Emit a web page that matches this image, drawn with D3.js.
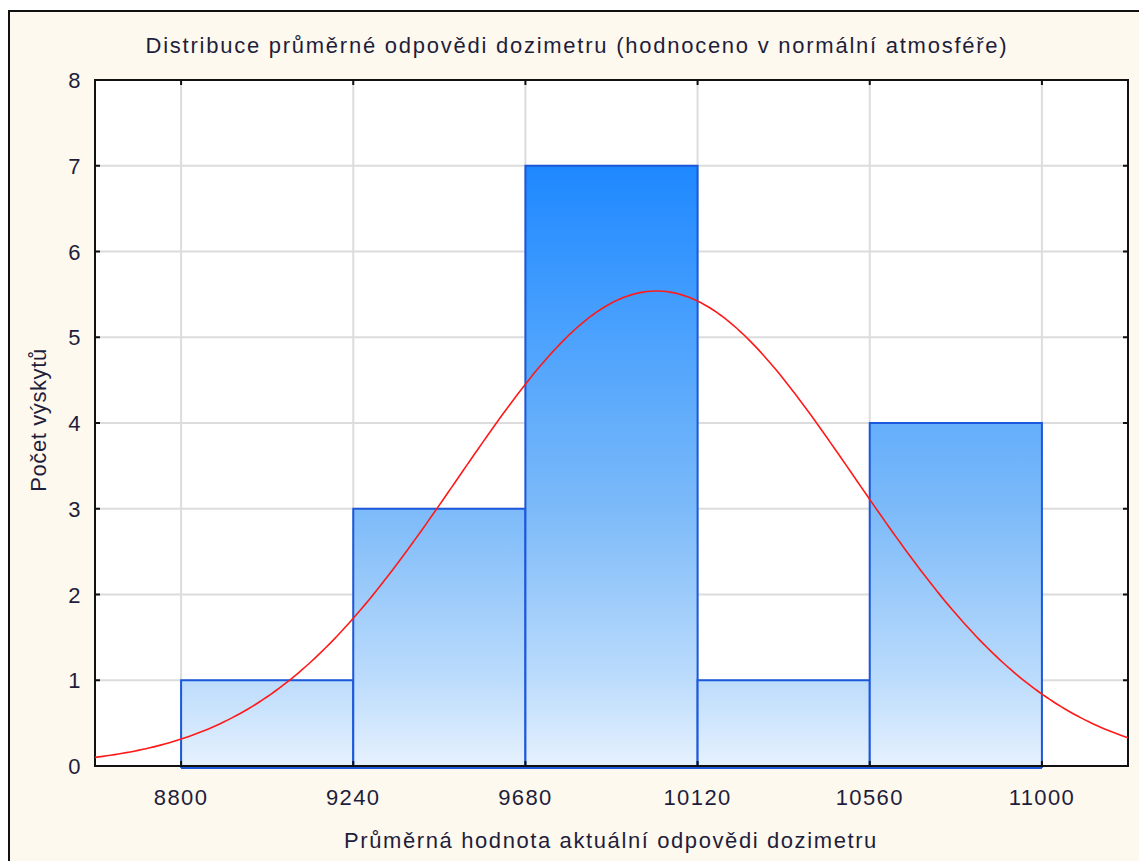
<!DOCTYPE html>
<html>
<head>
<meta charset="utf-8">
<script src="https://cdn.jsdelivr.net/npm/d3@7"></script>
<style>
  html, body { margin: 0; padding: 0; background: #ffffff; }
  svg { display: block; }
  text { font-family: "Liberation Sans", Arial, sans-serif; fill: #1e1e3c; }
</style>
</head>
<body>
<svg id="chart" width="1139" height="861"></svg>
<script>
// Histogram bins: lower/upper edges and counts
const binStarts = [8800, 9240, 9680, 10120, 10560];
const binEnds   = [9240, 9680, 10120, 10560, 11000];
const counts    = [1, 3, 7, 1, 4];

// Axis ticks
const xTicks = [8800, 9240, 9680, 10120, 10560, 11000];
const yTicks = [0, 1, 2, 3, 4, 5, 6, 7, 8];

// Fitted normal curve parameters
const fitMean = 10015;
const fitSd = 507;

const titleText = "Distribuce průměrné odpovědi dozimetru (hodnoceno v normální atmosféře)";
const xTitle = "Průměrná hodnota aktuální odpovědi dozimetru";
const yTitle = "Počet výskytů";

const svg = d3.select("#chart");
const W = 1139, H = 861;
const plot = { left: 95, top: 80, right: 1128, bottom: 766 };

// Outer panel
svg.append("rect")
  .attr("x", 9).attr("y", 11)
  .attr("width", W + 20).attr("height", H + 20)
  .attr("fill", "#fef9ee")
  .attr("stroke", "#111").attr("stroke-width", 2);

const x = d3.scaleLinear().domain([8580, 11220]).range([plot.left, plot.right]);
const y = d3.scaleLinear().domain([0, 8]).range([plot.bottom, plot.top]);

// Plot background
svg.append("rect")
  .attr("x", plot.left).attr("y", plot.top)
  .attr("width", plot.right - plot.left).attr("height", plot.bottom - plot.top)
  .attr("fill", "#ffffff");

// Grid
const grid = svg.append("g").attr("stroke", "#dcdcdc").attr("stroke-width", 2);
grid.selectAll("line.gx").data(xTicks).join("line")
  .attr("x1", d => x(d)).attr("x2", d => x(d))
  .attr("y1", plot.top).attr("y2", plot.bottom);
grid.selectAll("line.gy").data(yTicks.filter(d => d > 0 && d < 8)).join("line")
  .attr("x1", plot.left).attr("x2", plot.right)
  .attr("y1", d => y(d)).attr("y2", d => y(d));

// Bar fill gradient tied to the count scale
const defs = svg.append("defs");
const grad = defs.append("linearGradient")
  .attr("id", "barGrad")
  .attr("gradientUnits", "userSpaceOnUse")
  .attr("x1", 0).attr("x2", 0)
  .attr("y1", y(0)).attr("y2", y(7));
[[0, "#e6f1fd"], [1 / 7, "#bcdcfc"], [3 / 7, "#7cbaf9"], [5 / 7, "#4ca2fd"], [1, "#1e88ff"]]
  .forEach(([o, c]) => grad.append("stop").attr("offset", o).attr("stop-color", c));

const bins = counts.map((c, i) => ({ x0: binStarts[i], x1: binEnds[i], count: c }));

svg.append("g").selectAll("rect").data(bins).join("rect")
  .attr("x", d => x(d.x0))
  .attr("y", d => y(d.count))
  .attr("width", d => x(d.x1) - x(d.x0))
  .attr("height", d => y(0) - y(d.count) + 1)
  .attr("fill", "url(#barGrad)")
  .attr("stroke", "#1c58dc")
  .attr("stroke-width", 2);

// Axes frame
const frame = svg.append("g").attr("stroke", "#111").attr("stroke-width", 2).attr("fill", "none");
frame.append("rect")
  .attr("x", plot.left).attr("y", plot.top)
  .attr("width", plot.right - plot.left).attr("height", plot.bottom - plot.top);

// Inward tick marks on all four sides
const tl = 5;
frame.selectAll("line.tt").data(xTicks).join("line")
  .attr("x1", d => x(d)).attr("x2", d => x(d))
  .attr("y1", plot.top).attr("y2", plot.top + tl);
frame.selectAll("line.tb").data(xTicks).join("line")
  .attr("x1", d => x(d)).attr("x2", d => x(d))
  .attr("y1", plot.bottom).attr("y2", plot.bottom - tl);
frame.selectAll("line.tl").data(yTicks).join("line")
  .attr("x1", plot.left).attr("x2", plot.left + tl)
  .attr("y1", d => y(d)).attr("y2", d => y(d));
frame.selectAll("line.tr").data(yTicks).join("line")
  .attr("x1", plot.right).attr("x2", plot.right - tl)
  .attr("y1", d => y(d)).attr("y2", d => y(d));

// Blue baseline under the bars
svg.append("line")
  .attr("x1", x(binStarts[0])).attr("x2", x(binEnds[binEnds.length - 1]))
  .attr("y1", plot.bottom + 2).attr("y2", plot.bottom + 2)
  .attr("stroke", "#1c58dc").attr("stroke-width", 2);

// Expected normal frequency curve
const total = d3.sum(counts);
const binWidth = binEnds[0] - binStarts[0];
const normalFreq = v => total * binWidth / (fitSd * Math.sqrt(2 * Math.PI)) *
  Math.exp(-0.5 * Math.pow((v - fitMean) / fitSd, 2));
const xs = d3.range(x.domain()[0], x.domain()[1] + 1, 10);
svg.append("path")
  .datum(xs)
  .attr("fill", "none")
  .attr("stroke", "#ff1a1a")
  .attr("stroke-width", 1.6)
  .attr("d", d3.line().x(d => x(d)).y(d => y(normalFreq(d))));

// Tick labels
const labelStyle = s => s.style("font-size", "22px").style("letter-spacing", "1.4px");
svg.append("g").selectAll("text").data(xTicks).join("text")
  .attr("x", d => x(d)).attr("y", 805)
  .attr("text-anchor", "middle")
  .text(d => d)
  .call(labelStyle);
svg.append("g").selectAll("text").data(yTicks).join("text")
  .attr("x", 82).attr("y", d => y(d) + 8)
  .attr("text-anchor", "end")
  .text(d => d)
  .call(labelStyle);

// Titles
svg.append("text")
  .attr("x", 577).attr("y", 53)
  .attr("text-anchor", "middle")
  .style("font-size", "22px").style("letter-spacing", "1.75px")
  .text(titleText);
svg.append("text")
  .attr("x", 611).attr("y", 848)
  .attr("text-anchor", "middle")
  .style("font-size", "22px").style("letter-spacing", "1.6px")
  .text(xTitle);
svg.append("text")
  .attr("transform", "translate(46,420) rotate(-90)")
  .attr("text-anchor", "middle")
  .style("font-size", "22px").style("letter-spacing", "0.6px")
  .text(yTitle);
</script>
</body>
</html>
